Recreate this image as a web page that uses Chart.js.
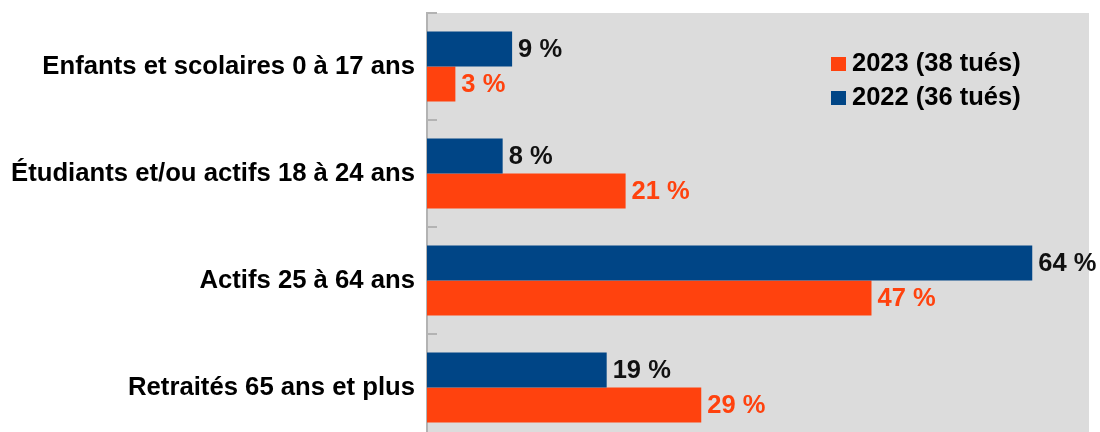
<!DOCTYPE html>
<html>
<head>
<meta charset="utf-8">
<script src="https://cdn.jsdelivr.net/npm/chart.js@4"></script>
<style>
  html, body { margin: 0; padding: 0; background: #fff; overflow: hidden; }
  #wrap { position: relative; width: 1100px; height: 445px; }
</style>
</head>
<body>
<div id="wrap"><canvas id="myChart"></canvas></div>
<script>
const categories = [
  "Enfants et scolaires 0 à 17 ans",
  "Étudiants et/ou actifs 18 à 24 ans",
  "Actifs 25 à 64 ans",
  "Retraités 65 ans et plus"
];
const values2022 = [9, 8, 64, 19];
const values2023 = [3, 21, 47, 29];
const label2022 = "2022 (36 tués)";
const label2023 = "2023 (38 tués)";
const navy = "#004586";
const orange = "#ff420e";
const FONT = "'Liberation Sans', Arial, sans-serif";

// grey plot background + small inside tick marks
const plotBackground = {
  id: "plotBackground",
  beforeDraw(chart) {
    const { ctx, chartArea: a } = chart;
    ctx.save();
    ctx.fillStyle = "#dcdcdc";
    ctx.fillRect(a.left, a.top, a.right - a.left, a.bottom - a.top);
    ctx.restore();
  },
  afterDatasetsDraw(chart) {
    const { ctx, chartArea: a } = chart;
    const n = categories.length;
    const step = (a.bottom - a.top) / n;
    ctx.save();
    ctx.strokeStyle = "#b3b3b3";
    ctx.lineWidth = 2;
    for (let i = 0; i <= n; i++) {
      const y = a.top + i * step;
      ctx.beginPath();
      ctx.moveTo(a.left, y);
      ctx.lineTo(a.left + 10, y);
      ctx.stroke();
    }
    ctx.restore();
  }
};

// value labels at the end of each bar
const valueLabels = {
  id: "valueLabels",
  afterDatasetsDraw(chart) {
    const { ctx } = chart;
    ctx.save();
    ctx.font = "bold 25.5px " + FONT;
    ctx.textAlign = "left";
    ctx.textBaseline = "middle";
    chart.data.datasets.forEach((ds, i) => {
      chart.getDatasetMeta(i).data.forEach((bar, j) => {
        ctx.fillStyle = ds.labelColor;
        ctx.fillText(ds.data[j] + " %", bar.x + 6, bar.y + 1);
      });
    });
    ctx.restore();
  }
};

// legend inside the plot, 2023 first
const customLegend = {
  id: "customLegend",
  afterDraw(chart) {
    const { ctx } = chart;
    const items = [[label2023, orange], [label2022, navy]];
    ctx.save();
    ctx.font = "bold 25.5px " + FONT;
    ctx.textBaseline = "middle";
    items.forEach(([txt, col], i) => {
      const y = 63 + i * 34;
      ctx.fillStyle = col;
      ctx.fillRect(831, y - 6, 15, 14);
      ctx.fillStyle = "#000";
      ctx.fillText(txt, 852, y + 1);
    });
    ctx.restore();
  }
};

new Chart(document.getElementById("myChart"), {
  type: "bar",
  data: {
    labels: categories,
    datasets: [
      { label: label2022, data: values2022, backgroundColor: navy, labelColor: "#111" },
      { label: label2023, data: values2023, backgroundColor: orange, labelColor: orange }
    ]
  },
  options: {
    indexAxis: "y",
    responsive: true,
    maintainAspectRatio: false,
    animation: false,
    categoryPercentage: 0.655,
    barPercentage: 1.0,
    layout: { padding: { top: 13, right: 11, bottom: 4, left: 0 } },
    plugins: {
      legend: { display: false },
      tooltip: { enabled: false }
    },
    scales: {
      x: {
        display: false,
        min: 0,
        max: 70
      },
      y: {
        grid: { display: false, drawTicks: false },
        border: { display: true, color: "#b3b3b3", width: 2 },
        ticks: {
          color: "#000",
          padding: 12,
          font: { family: FONT, size: 25.7, weight: "bold" }
        },
        afterFit(scale) {
          scale.width = 427;
          scale.paddingTop = 0;
          scale.paddingBottom = 0;
        }
      }
    }
  },
  plugins: [plotBackground, valueLabels, customLegend]
});
</script>
</body>
</html>
